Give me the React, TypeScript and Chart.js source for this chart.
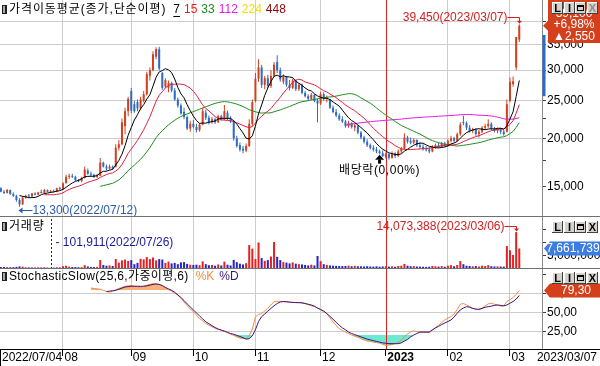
import React, { useEffect, useRef } from 'react';
import { Chart, registerables } from 'chart.js';

Chart.register(...registerables);

const FONT = "'Liberation Sans', 'Noto Sans CJK KR', sans-serif";
Chart.defaults.font.family = FONT;
Chart.defaults.font.size = 12;
Chart.defaults.color = '#000';

// ---------------- data (daily, 2022/07/04 .. 2023/03/07) ----------------
const opens = [
  14850, 14550, 14450, 14700, 14350, 14200, 13850, 13500, 14050, 14200,
  14150, 14400, 14300, 14500, 14450, 14700, 14550, 14600, 14550, 14850,
  14800, 15300, 15900, 16000, 15900, 15600, 15500, 15800, 16500, 16200,
  16100, 15900, 16000, 17300, 16900, 16700, 16900, 16900, 18900, 19300,
  21500, 23500, 26500, 24500, 24800, 23900, 25000, 26000, 29000, 30000,
  32500, 34000, 29500, 27200, 27000, 27800, 26600, 25200, 24300, 23400,
  22700, 21200, 21800, 21400, 21000, 21700, 23300, 22600, 22000, 22400,
  22000, 22800, 22400, 23300, 22500, 22100, 20000, 19200, 18800, 18600,
  19100, 21800, 25000, 28500, 30500, 27500, 28600, 27300, 29000, 31500,
  30000, 28000, 28800, 27500, 27000, 28200, 26800, 27500, 26200, 25700,
  25300, 25900, 25000, 24600, 26000, 25300, 25200, 24000, 23400, 22900,
  22400, 22100, 21500, 21900, 21300, 21500, 20700, 20100, 19600, 19200,
  18900, 18700, 18500, 18300, 17900, 18200, 17800, 18300, 18000, 18500,
  18800, 20100, 19700, 19500, 19800, 19200, 19000, 18800, 18700, 18500,
  19000, 19200, 19000, 19400, 19100, 19700, 20000, 19700, 20500, 22000,
  21900, 21300, 20900, 21100, 20500, 20800, 21300, 21500, 21800, 21200,
  20900, 21100, 20800, 20800, 25000, 27600, 30500, 36000,
];
const highs = [
  14950, 14700, 14800, 14750, 14500, 14300, 14000, 14150, 14300, 14350,
  14450, 14500, 14550, 14750, 14800, 14750, 14700, 14750, 14900, 15000,
  15400, 16100, 16200, 16200, 16000, 15700, 15900, 16900, 16700, 16400,
  16200, 16200, 17800, 17400, 17100, 17100, 17000, 19300, 19800, 22500,
  24000, 25600, 27000, 25000, 25200, 25600, 26500, 29700, 30500, 33600,
  34400, 34500, 29700, 28600, 28200, 28000, 27000, 25500, 24600, 24000,
  22900, 22200, 22300, 21800, 21900, 24000, 23700, 22900, 22700, 22600,
  23000, 23000, 24400, 23600, 22800, 22300, 20300, 19500, 19100, 19400,
  22400, 25200, 29500, 32000, 31000, 29000, 29200, 30000, 31500, 32800,
  30500, 29300, 29000, 28300, 28500, 28400, 27800, 27700, 26500, 26000,
  26200, 26000, 25300, 26400, 26300, 25800, 25300, 24300, 23800, 23200,
  22800, 22300, 22200, 22000, 21800, 21600, 20900, 20300, 19900, 19400,
  19200, 19000, 18700, 18600, 18400, 18300, 18500, 18400, 18700, 19000,
  20600, 20300, 20100, 20000, 19900, 19500, 19300, 19100, 19000, 19200,
  19400, 19500, 19600, 19600, 19900, 20300, 20200, 20700, 22000, 22900,
  22100, 21600, 21300, 21200, 21000, 21500, 21800, 22400, 22000, 21400,
  21300, 21300, 21000, 25200, 28700, 28900, 36550, 39450,
];
const lows = [
  14500, 14350, 14400, 14300, 14100, 13700, 13300, 13450, 13950, 14050,
  14100, 14250, 14250, 14400, 14400, 14500, 14450, 14500, 14500, 14700,
  14700, 15300, 15700, 15800, 15500, 15400, 15400, 15750, 16100, 15900,
  15800, 15800, 16000, 16800, 16500, 16600, 16600, 16800, 18600, 19200,
  20500, 22800, 23200, 23300, 23500, 23700, 24800, 25800, 28200, 29800,
  32000, 30000, 26700, 27000, 26300, 26300, 25000, 24000, 23000, 22400,
  21000, 20800, 21200, 20700, 20800, 21600, 22300, 21700, 21800, 21800,
  21900, 22200, 22300, 22300, 21900, 19700, 18900, 18500, 18300, 18400,
  19000, 21500, 24800, 28000, 27000, 26800, 27000, 27000, 28800, 29500,
  28000, 27600, 27200, 26600, 26800, 26500, 26500, 26000, 25500, 25000,
  25100, 24800, 22000, 24400, 25000, 24800, 23800, 23200, 22700, 22200,
  21900, 21300, 21300, 21200, 20900, 20500, 19900, 19400, 19000, 18700,
  18500, 18300, 18200, 17900, 17700, 17600, 17700, 17800, 17900, 18300,
  18700, 19400, 19300, 19300, 19000, 18800, 18600, 18500, 18300, 18400,
  18800, 18900, 18900, 19000, 19000, 19500, 19500, 19600, 20300, 21600,
  21000, 20700, 20600, 20300, 20100, 20600, 21000, 21300, 21000, 20700,
  20600, 20500, 20300, 20700, 24800, 27200, 30000, 35500,
];
const closes = [
  14550, 14450, 14700, 14350, 14200, 13850, 13500, 14050, 14200, 14150,
  14400, 14300, 14500, 14450, 14700, 14550, 14600, 14550, 14850, 14800,
  15300, 15900, 16000, 15900, 15600, 15500, 15800, 16600, 16200, 16100,
  15900, 16000, 17300, 16900, 16700, 16900, 16700, 18900, 19300, 22000,
  23500, 25300, 23600, 23500, 23900, 25200, 26000, 29300, 30000, 33000,
  34000, 30300, 27000, 28300, 27800, 26600, 25200, 24300, 23200, 22700,
  21200, 21800, 21400, 21000, 21700, 23500, 22600, 22000, 22400, 22000,
  22800, 22400, 23500, 22500, 22100, 20000, 19100, 18700, 18600, 19100,
  21800, 24800, 28500, 30500, 27500, 28600, 27300, 29000, 31000, 30000,
  28400, 28800, 27500, 27000, 28200, 26800, 27500, 26200, 25700, 25300,
  25900, 25000, 24600, 26000, 25300, 25500, 24000, 23400, 22900, 22400,
  22100, 21500, 21900, 21400, 21600, 20700, 20100, 19600, 19200, 18900,
  18700, 18500, 18300, 18000, 18200, 17800, 18300, 18000, 18500, 18800,
  20100, 19600, 19500, 19800, 19200, 19000, 18800, 18700, 18500, 19000,
  19200, 19000, 19400, 19100, 19700, 20000, 19700, 20500, 21700, 21900,
  21300, 20900, 21100, 20500, 20800, 21300, 21500, 21800, 21200, 20900,
  21100, 20800, 20500, 24500, 28000, 28100, 36550, 39100,
];
const volumes = [
  420000, 380000, 350000, 300000, 330000, 450000, 620000, 540000, 300000, 250000,
  280000, 200000, 260000, 220000, 310000, 180000, 101911, 160000, 290000, 230000,
  700000, 900000, 520000, 400000, 380000, 300000, 350000, 1100000, 600000, 420000,
  380000, 450000, 3100000, 1200000, 900000, 1000000, 800000, 3500000, 2100000, 3000000,
  3300000, 2800000, 3100000, 1500000, 2000000, 3600000, 3400000, 4300000, 3500000, 4100000,
  3000000, 3500000, 3300000, 2000000, 2500000, 1800000, 2000000, 1500000, 2200000, 2300000,
  1600000, 1300000, 1200000, 1300000, 1100000, 2600000, 1500000, 1100000, 1200000, 900000,
  1400000, 1000000, 2500000, 1300000, 1000000, 3200000, 2300000, 1700000, 1400000, 1900000,
  9000000, 7600000, 3500000, 10000000, 3900000, 2800000, 3100000, 4500000, 10200000, 4400000,
  3100000, 2300000, 2100000, 1800000, 2200000, 1700000, 1500000, 1400000, 1200000, 1000000,
  1300000, 1000000, 4700000, 2700000, 1500000, 1200000, 1000000, 900000, 850000, 800000,
  750000, 800000, 900000, 700000, 850000, 700000, 650000, 600000, 700000, 600000,
  550000, 650000, 500000, 600000, 700000, 550000, 650000, 500000, 800000, 900000,
  1600000, 900000, 700000, 750000, 600000, 550000, 500000, 450000, 500000, 800000,
  700000, 550000, 750000, 500000, 900000, 1100000, 700000, 1200000, 2700000, 1500000,
  900000, 800000, 700000, 750000, 600000, 900000, 800000, 1100000, 700000, 600000,
  650000, 600000, 550000, 8600000, 7000000, 5100000, 14073388, 7661739,
];
const stochK = [
  ...Array(29).fill(null),
  82.7, 82, 81.5, 81, 79.5, 78, 77, 78.5, 80.5, 82,
  83.5, 85, 85.5, 86, 85, 84.5, 84, 85, 86.5, 87.5,
  88.5, 88, 87.2, 85.5, 83, 80.5, 78.5, 76, 73, 69,
  64, 59, 55, 51, 46.5, 42, 39, 35.5, 33, 31,
  29, 27.5, 26.5, 25.5, 23.5, 21, 19.5, 17.5, 16, 15.5,
  15, 19, 28, 44, 47.5, 48.5, 52, 56, 60, 64.5,
  65, 65, 64.6, 64, 63.5, 63.5, 63.2, 63.2, 63, 62,
  60.5, 59, 58, 56, 54, 51, 48.5, 43, 37.5, 32.5,
  28.5, 26, 24, 22, 20, 18.5, 17, 15, 13.5, 12,
  11.5, 10.5, 10, 9.2, 7.5, 6.2, 6.5, 7.4, 8.5, 10,
  13, 18, 21.5, 24, 25.5, 24.5, 24, 23.5, 23.3, 23.2,
  26, 30, 33, 36.5, 40, 42.5, 44.5, 48, 54, 61,
  62, 60, 58, 55.6, 54.5, 53.5, 55.5, 59, 61.5, 62.4,
  61, 60, 58.5, 59, 64.6, 67, 70, 74, 79.3,
];
const stochD = [
  ...Array(34).fill(null),
  78, 78.5, 79, 79.5, 81, 82.5, 84, 84.5, 85, 85,
  85, 84.9, 85, 85.5, 86.5, 87.5, 88.1, 87.5, 86, 83.5,
  81.5, 79.5, 77, 73.5, 70, 66, 61.5, 57.5, 53.4, 49.5,
  45.5, 41.5, 37.6, 35, 32.5, 30, 28, 26.5, 25, 23.5,
  22, 21, 19.5, 18, 16.5, 14.5, 15, 19, 27, 38,
  44.5, 48, 52, 55.5, 59, 62, 64, 64.6, 64.5, 64,
  63.5, 63.2, 63.2, 62.8, 62, 61, 60, 58.5, 56, 54,
  52, 48.5, 45, 41, 37, 33, 29.5, 27, 24, 22,
  20.5, 19, 17.5, 16, 14.5, 13.5, 12.5, 11.5, 10.5, 9.5,
  9, 8.5, 8.4, 8.4, 8.4, 9.5, 12, 14, 17.5, 20,
  22, 24, 24, 24, 24, 27, 29.5, 31.5, 34, 36,
  38, 40, 44, 49, 53.4, 56, 57.8, 57, 55.5, 54.5,
  54.3, 55.5, 57, 57.8, 58.5, 59.5, 60, 59.5, 58.8, 60,
  62.5, 64.6, 68, 72.7,
];

const monthTicks = [20, 42, 62, 82, 103, 124, 144, 164];
const monthLabels = ['08', '09', '10', '11', '12', '2023', '02', '03'];
const yearTick = 124;
const firstDate = '2022/07/04';
const lastDate = '2023/03/07';
const lowDate = '2022/07/12';
const highDate = '2023/03/07';
const minVolDate = '2022/07/26';
const maxVolDate = '2023/03/06';
const exDivIndex = 122;
const exDivLabel = '배당락(0,00%)';
const maPeriods = [7, 15, 33, 112, 224, 448];
const maLineColors = ['#000000', '#e0203c', '#1e8c1e', '#e01ee0', '#f0e000', '#8a0a0a'];
const maTitleColors = ['#000000', '#e41e1e', '#1e8c1e', '#e01ee0', '#f0e000', '#8a0a0a'];
const priceTicks = [15000, 17500, 20000, 22500, 25000, 30000, 35000, 40000];
const priceLabelTicks = [15000, 20000, 25000, 30000, 35000, 40000];
const priceGridTicks = [20000, 25000, 30000, 35000, 40000];
const volumeTicks = [5000000, 10000000, 15000000];
const volumeLabelTicks = [5000000];
const stochTicks = [25, 50, 75, 100];
const stochGridTicks = [25, 50, 75];
const stochHigh = 80;
const stochLow = 20;
const rangeBar = [25700, 37000];
const priceTitle = '가격이동평균(종가,단순이평)';
const volumeTitle = '거래량';
const stochTitle = 'StochasticSlow(25,6,가중이평,6)';

// ---------------- layout ----------------
const AXIS_W = 58;
const X_MIN = -0.29;
const X_MAX = 174.32;
const MAIN_H = 216;
const PX_PER_LN = 168;
const REF_PRICE = 20000;
const REF_Y = 138.3;
const PRICE_MAX = REF_PRICE * Math.exp(REF_Y / PX_PER_LN);
const PRICE_MIN = REF_PRICE * Math.exp((REF_Y - MAIN_H) / PX_PER_LN);
const VOL_H = 51;
const VOL_MAX = 20000000;
const ST_H = 97;
const ST_AXIS_H = 17;
const ST_MIN = 80 - 59 / 0.75;
const ST_MAX = 108;

const UP_CANDLE = '#d2401e';
const DOWN_CANDLE = '#2f6cc0';
const UP_VOL = '#e42020';
const DOWN_VOL = '#2424c8';
const GRID = '#cdcdcd';
const YEAR_GRID = '#e02424';
const RED_TXT = '#d42020';

const fmt = (v: number) => Math.round(v).toLocaleString('en-US');
const fmtDec = (v: number) => v.toFixed(2).replace('.', ',');

function sma(values: number[], period: number) {
  return values.map((_, i) => {
    if (i < period - 1) return null;
    let s = 0;
    for (let k = i - period + 1; k <= i; k++) s += values[k];
    return s / period;
  });
}

function xAxis(height: number, tickLen: number) {
  return {
    type: 'linear',
    min: X_MIN,
    max: X_MAX,
    bounds: 'data',
    offset: false,
    afterBuildTicks: (s: any) => {
      s.ticks = monthTicks.map((v) => ({ value: v }));
    },
    afterFit: (s: any) => {
      s.height = height;
      s.paddingLeft = 0;
      s.paddingRight = 0;
    },
    grid: {
      offset: false,
      color: (c: any) => (c.tick && c.tick.value === yearTick ? 'rgba(0,0,0,0)' : GRID),
      lineWidth: 1,
      drawTicks: tickLen > 0,
      tickLength: tickLen,
      tickColor: '#000',
    },
    border: { display: false },
    ticks: { display: false },
  };
}

// red year-boundary line, drawn through the library's x scale
const yearLine = {
  id: 'yearLine',
  beforeDatasetsDraw(chart: any) {
    const ctx: CanvasRenderingContext2D = chart.ctx;
    const x = Math.round(chart.scales.x.getPixelForValue(yearTick)) + 0.5;
    const a = chart.chartArea;
    ctx.save();
    ctx.strokeStyle = YEAR_GRID;
    ctx.lineWidth = 1;
    ctx.beginPath();
    ctx.moveTo(x, a.top);
    ctx.lineTo(x, a.bottom);
    ctx.stroke();
    ctx.restore();
  },
};

function yAfterFit(s: any) {
  s.width = AXIS_W;
  s.paddingTop = 0;
  s.paddingBottom = 0;
}

function drawIcon(ctx: CanvasRenderingContext2D, x: number, y: number) {
  ctx.fillStyle = '#202020';
  ctx.fillRect(x, y, 5, 9);
  ctx.fillStyle = '#a8a8a8';
  ctx.fillRect(x + 1, y + 1, 2, 7);
}

function setSpacing(ctx: any, v: string) {
  if ('letterSpacing' in ctx) ctx.letterSpacing = v;
}

function drawButtons(ctx: CanvasRenderingContext2D, x0: number, y0: number, closeGrey: boolean) {
  const labels = ['L', 'I', '', 'X'];
  for (let i = 0; i < 4; i++) {
    const x = Math.round(x0 + i * 11.5);
    ctx.fillStyle = '#d6d3ce';
    ctx.fillRect(x, y0, 11, 12);
    ctx.fillStyle = '#ffffff';
    ctx.fillRect(x, y0, 11, 1);
    ctx.fillRect(x, y0, 1, 12);
    ctx.fillStyle = '#404040';
    ctx.fillRect(x, y0 + 11, 11, 1);
    ctx.fillRect(x + 10, y0, 1, 12);
    ctx.fillStyle = i === 3 && closeGrey ? '#8c8c8c' : '#000';
    if (i === 2) {
      ctx.strokeStyle = '#000';
      ctx.lineWidth = 1;
      ctx.strokeRect(x + 2.5, y0 + 3.5, 6, 5);
      ctx.fillRect(x + 2, y0 + 3, 7, 2);
    } else {
      ctx.font = `bold 11px ${FONT}`;
      ctx.textAlign = 'center';
      ctx.textBaseline = 'middle';
      ctx.fillText(labels[i], x + 5.5, y0 + 6.5);
    }
  }
}

function drawTag(ctx: CanvasRenderingContext2D, yMid: number, h: number, color: string) {
  ctx.fillStyle = color;
  ctx.beginPath();
  ctx.moveTo(544, yMid);
  ctx.lineTo(550, yMid - h / 2);
  ctx.lineTo(600, yMid - h / 2);
  ctx.lineTo(600, yMid + h / 2);
  ctx.lineTo(550, yMid + h / 2);
  ctx.closePath();
  ctx.fill();
}

// ---------------- overlays ----------------
const mainOverlay = {
  id: 'mainOverlay',
  afterDraw(chart: any) {
    const ctx: CanvasRenderingContext2D = chart.ctx;
    const xs = chart.scales.x;
    const ys = chart.scales.y;
    const n = closes.length;
    ctx.save();
    ctx.lineWidth = 1;
    // title
    drawIcon(ctx, 2, 5);
    ctx.font = `12px ${FONT}`;
    ctx.textBaseline = 'middle';
    ctx.textAlign = 'left';
    ctx.fillStyle = '#000';
    let tx = 9;
    const ty = 10;
    setSpacing(ctx, '0.9px');
    ctx.fillText(priceTitle, tx, ty);
    tx += ctx.measureText(priceTitle).width + 7;
    setSpacing(ctx, '0px');
    maPeriods.forEach((p, k) => {
      const s = String(p);
      ctx.fillStyle = maTitleColors[k];
      ctx.fillText(s, tx, ty);
      const w = ctx.measureText(s).width;
      if (k === 0) ctx.fillRect(tx, ty + 6, w, 1);
      tx += w + 4;
    });

    // highest high
    let hi = 0;
    highs.forEach((h, i) => { if (h > highs[hi]) hi = i; });
    const hx = Math.round(xs.getPixelForValue(hi)) + 0.5;
    const hy = ys.getPixelForValue(highs[hi]);
    const hly = Math.round(hy - 7) + 0.5;
    ctx.strokeStyle = RED_TXT;
    ctx.fillStyle = RED_TXT;
    ctx.beginPath();
    ctx.moveTo(hx - 12, hly);
    ctx.lineTo(hx, hly);
    ctx.lineTo(hx, hy - 3);
    ctx.stroke();
    ctx.beginPath();
    ctx.moveTo(hx - 2.5, hy - 3.5);
    ctx.lineTo(hx + 2.5, hy - 3.5);
    ctx.lineTo(hx, hy - 0.5);
    ctx.closePath();
    ctx.fill();
    ctx.font = `12px ${FONT}`;
    ctx.textAlign = 'right';
    ctx.fillText(`${fmt(highs[hi])}(${highDate})`, hx - 12, hly);

    // lowest low
    let lo = 0;
    lows.forEach((l, i) => { if (l < lows[lo]) lo = i; });
    const lx = xs.getPixelForValue(lo);
    const lyv = ys.getPixelForValue(lows[lo]);
    const ay = Math.round(lyv + 3) + 0.5;
    ctx.strokeStyle = '#2a5caa';
    ctx.fillStyle = '#2a5caa';
    ctx.beginPath();
    ctx.moveTo(lx + 2, ay);
    ctx.lineTo(lx + 13, ay);
    ctx.stroke();
    ctx.beginPath();
    ctx.moveTo(lx - 1, ay);
    ctx.lineTo(lx + 3, ay - 3);
    ctx.lineTo(lx + 3, ay + 3);
    ctx.closePath();
    ctx.fill();
    ctx.textAlign = 'left';
    ctx.fillText(`${fmt(lows[lo])}(${lowDate})`, lx + 13, ay);

    // ex-dividend marker
    const ex = xs.getPixelForValue(exDivIndex);
    const top = ys.getPixelForValue(lows[exDivIndex]) + 0.5;
    ctx.fillStyle = '#000';
    ctx.beginPath();
    ctx.moveTo(ex, top);
    ctx.lineTo(ex - 4.5, top + 5);
    ctx.lineTo(ex + 4.5, top + 5);
    ctx.closePath();
    ctx.fill();
    ctx.fillRect(ex - 1.5, top + 5, 3, 4);
    ctx.textAlign = 'center';
    setSpacing(ctx, '0.6px');
    ctx.fillText(exDivLabel, ex, top + 16);
    setSpacing(ctx, '0px');

    // range bar on axis
    const rTop = ys.getPixelForValue(rangeBar[1]);
    const rBot = ys.getPixelForValue(rangeBar[0]);
    ctx.fillStyle = '#2a6cc8';
    ctx.fillRect(chart.chartArea.right + 0.5, rTop, 3, rBot - rTop);

    // current price tag
    const cur = closes[n - 1];
    const prev = closes[n - 2];
    const diff = cur - prev;
    const pct = (diff / prev) * 100;
    const cy = ys.getPixelForValue(cur);
    ctx.fillStyle = '#d4401c';
    ctx.beginPath();
    ctx.moveTo(548, -1);
    ctx.lineTo(600, -1);
    ctx.lineTo(600, 43);
    ctx.lineTo(548, 43);
    ctx.lineTo(548, cy + 5);
    ctx.lineTo(543, cy);
    ctx.lineTo(548, cy - 5);
    ctx.closePath();
    ctx.fill();
    ctx.fillStyle = '#fff';
    ctx.textAlign = 'center';
    ctx.fillText(fmt(cur), 574, 14);
    ctx.fillText(`+${fmtDec(pct)}%`, 574, 25);
    ctx.fillText(`▲${fmt(diff)}`, 574, 37);
    drawButtons(ctx, 552, 2, true);
    ctx.restore();
  },
};

const volOverlay = {
  id: 'volOverlay',
  afterDraw(chart: any) {
    const ctx: CanvasRenderingContext2D = chart.ctx;
    const xs = chart.scales.x;
    const ys = chart.scales.y;
    const n = volumes.length;
    ctx.save();
    ctx.lineWidth = 1;
    drawIcon(ctx, 2, 5);
    ctx.font = `12px ${FONT}`;
    ctx.textBaseline = 'middle';
    ctx.textAlign = 'left';
    ctx.fillStyle = '#000';
    setSpacing(ctx, '0.8px');
    ctx.fillText(volumeTitle, 9, 10);
    setSpacing(ctx, '0px');

    let mi = 0;
    let ma = 0;
    volumes.forEach((v, i) => {
      if (v < volumes[mi]) mi = i;
      if (v > volumes[ma]) ma = i;
    });
    const mx = Math.round(xs.getPixelForValue(mi)) + 0.5;
    ctx.strokeStyle = '#1a1a9a';
    ctx.setLineDash([2, 2]);
    ctx.beginPath();
    ctx.moveTo(mx, 2);
    ctx.lineTo(mx, chart.chartArea.bottom);
    ctx.stroke();
    ctx.setLineDash([]);
    ctx.fillStyle = '#1a1a9a';
    ctx.fillText(`- ${fmt(volumes[mi])}(${minVolDate})`, mx + 4, 26);

    const px = Math.round(xs.getPixelForValue(ma)) + 0.5;
    const py = ys.getPixelForValue(volumes[ma]);
    const ly = Math.round(py - 6) + 0.5;
    ctx.strokeStyle = RED_TXT;
    ctx.fillStyle = RED_TXT;
    ctx.beginPath();
    ctx.moveTo(px - 12, ly);
    ctx.lineTo(px, ly);
    ctx.lineTo(px, py - 3);
    ctx.stroke();
    ctx.beginPath();
    ctx.moveTo(px - 2.5, py - 3.5);
    ctx.lineTo(px + 2.5, py - 3.5);
    ctx.lineTo(px, py - 0.5);
    ctx.closePath();
    ctx.fill();
    ctx.textAlign = 'right';
    ctx.fillText(`${fmt(volumes[ma])}(${maxVolDate})`, px - 12, ly);

    const vy = ys.getPixelForValue(volumes[n - 1]);
    drawTag(ctx, vy, 14, '#3b7de0');
    ctx.fillStyle = '#fff';
    ctx.textAlign = 'center';
    ctx.fillText(fmt(volumes[n - 1]), 573, vy + 0.5);
    drawButtons(ctx, 552, 4, false);
    ctx.restore();
  },
};

const stochOverlay = {
  id: 'stochOverlay',
  afterDraw(chart: any) {
    const ctx: CanvasRenderingContext2D = chart.ctx;
    const xs = chart.scales.x;
    const ys = chart.scales.y;
    const n = stochK.length;
    const area = chart.chartArea;
    ctx.save();
    ctx.lineWidth = 1;
    drawIcon(ctx, 2, 3);
    ctx.font = `12px ${FONT}`;
    ctx.textBaseline = 'middle';
    ctx.textAlign = 'left';
    ctx.fillStyle = '#000';
    let tx = 9;
    setSpacing(ctx, '0.35px');
    ctx.fillText(stochTitle, tx, 8);
    tx += ctx.measureText(stochTitle).width + 7;
    setSpacing(ctx, '0px');
    ctx.fillStyle = '#f08c46';
    ctx.fillText('%K', tx, 8);
    tx += ctx.measureText('%K').width + 5;
    ctx.fillStyle = '#3c1478';
    ctx.fillText('%D', tx, 8);

    const kLast = stochK[n - 1] as number;
    const ky = ys.getPixelForValue(kLast);
    drawTag(ctx, ky, 14, '#d4401c');
    ctx.fillStyle = '#fff';
    ctx.textAlign = 'center';
    ctx.fillText(fmtDec(kLast), 576, ky + 0.5);
    drawButtons(ctx, 552, 3, false);

    // bottom date strip
    const by = Math.round(area.bottom) + 0.5;
    ctx.strokeStyle = '#000';
    ctx.beginPath();
    ctx.moveTo(0, by);
    ctx.lineTo(600, by);
    ctx.moveTo(0.5, by);
    ctx.lineTo(0.5, chart.height);
    ctx.stroke();
    const ly = area.bottom + 9;
    ctx.fillStyle = '#000';
    ctx.textAlign = 'left';
    ctx.font = `12px ${FONT}`;
    ctx.fillText(firstDate, 2, ly);
    monthTicks.forEach((t, i) => {
      const x = xs.getPixelForValue(t) + 1.5;
      ctx.font = t === yearTick ? `bold 12px ${FONT}` : `12px ${FONT}`;
      ctx.fillText(monthLabels[i], x, ly);
    });
    ctx.font = `12px ${FONT}`;
    ctx.textAlign = 'right';
    ctx.fillText(lastDate, 597, ly);
    ctx.restore();
  },
};

// ---------------- charts ----------------
const baseOptions = {
  animation: false,
  responsive: false,
  events: [],
  layout: { padding: 0, autoPadding: false },
  plugins: { legend: { display: false }, tooltip: { enabled: false } },
};

function buildMain(canvas: HTMLCanvasElement) {
  const colors = closes.map((c, i) => (c >= opens[i] ? UP_CANDLE : DOWN_CANDLE));
  const maSets = maPeriods.map((p, k) => ({
    type: 'line',
    data: sma(closes, p).map((v, i) => ({ x: i, y: v })),
    borderColor: maLineColors[k],
    borderWidth: 1,
    pointRadius: 0,
    fill: false,
    tension: 0,
    spanGaps: false,
    order: 0,
  }));
  return new Chart(canvas, {
    type: 'bar',
    data: {
      datasets: [
        ...maSets,
        {
          type: 'bar',
          data: closes.map((c, i) => ({ x: i, y: [opens[i], c] })),
          backgroundColor: colors,
          barThickness: 2,
          minBarLength: 1,
          grouped: false,
          borderWidth: 0,
          inflateAmount: 0,
          order: 1,
        },
        {
          type: 'bar',
          data: closes.map((_, i) => ({ x: i, y: [lows[i], highs[i]] })),
          backgroundColor: colors,
          barThickness: 1,
          grouped: false,
          borderWidth: 0,
          inflateAmount: 0,
          order: 2,
        },
      ],
    },
    options: {
      ...baseOptions,
      scales: {
        x: xAxis(0, 0),
        y: {
          type: 'logarithmic',
          position: 'right',
          min: PRICE_MIN,
          max: PRICE_MAX,
          bounds: 'data',
          beginAtZero: false,
          afterBuildTicks: (s: any) => {
            s.ticks = priceTicks.map((v) => ({ value: v }));
          },
          afterFit: yAfterFit,
          grid: {
            color: (c: any) => (c.tick && priceGridTicks.includes(c.tick.value) ? GRID : 'rgba(0,0,0,0)'),
            tickColor: '#404040',
            tickLength: 4,
          },
          border: { display: true, color: '#8a8a8a' },
          ticks: {
            autoSkip: false,
            padding: 1,
            color: '#000',
            font: { size: 12, family: FONT },
            callback: (v: any) => (priceLabelTicks.includes(v) ? fmt(v) : ''),
          },
        },
      },
    },
    plugins: [yearLine, mainOverlay],
  } as any);
}

function buildVolume(canvas: HTMLCanvasElement) {
  const colors = closes.map((c, i) => (c >= opens[i] ? UP_VOL : DOWN_VOL));
  return new Chart(canvas, {
    type: 'bar',
    data: {
      datasets: [
        {
          data: volumes.map((v, i) => ({ x: i, y: v })),
          backgroundColor: colors,
          barThickness: 2,
          borderWidth: 0,
          inflateAmount: 0,
          grouped: false,
        },
      ],
    },
    options: {
      ...baseOptions,
      scales: {
        x: xAxis(0, 0),
        y: {
          type: 'linear',
          position: 'right',
          min: 0,
          max: VOL_MAX,
          bounds: 'data',
          afterBuildTicks: (s: any) => {
            s.ticks = volumeTicks.map((v) => ({ value: v }));
          },
          afterFit: yAfterFit,
          grid: { color: 'rgba(0,0,0,0)', tickColor: '#404040', tickLength: 4 },
          border: { display: true, color: '#8a8a8a' },
          ticks: {
            autoSkip: false,
            padding: 1,
            color: '#000',
            font: { size: 12, family: FONT },
            callback: (v: any) => (volumeLabelTicks.includes(v) ? fmt(v) : ''),
          },
        },
      },
    },
    plugins: [yearLine, volOverlay],
  } as any);
}

function buildStoch(canvas: HTMLCanvasElement) {
  const kData = stochK.map((v, i) => ({ x: i, y: v }));
  const dData = stochD.map((v, i) => ({ x: i, y: v }));
  const lineBase = { type: 'line', pointRadius: 0, tension: 0, spanGaps: false, borderWidth: 1 };
  return new Chart(canvas, {
    type: 'line',
    data: {
      datasets: [
        {
          ...lineBase,
          data: dData,
          borderColor: '#3c1478',
          fill: { target: { value: stochLow }, above: 'rgba(0,0,0,0)', below: '#6ee8d0' },
          order: 0,
        },
        {
          ...lineBase,
          data: kData,
          borderColor: '#f08c46',
          fill: { target: { value: stochHigh }, above: '#f7b27a', below: 'rgba(0,0,0,0)' },
          order: 1,
        },
        {
          ...lineBase,
          data: kData,
          borderWidth: 0,
          borderColor: 'rgba(0,0,0,0)',
          fill: { target: { value: stochLow }, above: 'rgba(0,0,0,0)', below: '#6ee8d0' },
          order: 2,
        },
      ],
    },
    options: {
      ...baseOptions,
      plugins: { ...baseOptions.plugins, filler: { drawTime: 'beforeDatasetsDraw', propagate: false } },
      scales: {
        x: xAxis(ST_AXIS_H, 7),
        y: {
          type: 'linear',
          position: 'right',
          min: ST_MIN,
          max: ST_MAX,
          bounds: 'data',
          afterBuildTicks: (s: any) => {
            s.ticks = stochTicks.map((v) => ({ value: v }));
          },
          afterFit: yAfterFit,
          grid: {
            color: (c: any) => (c.tick && stochGridTicks.includes(c.tick.value) ? GRID : 'rgba(0,0,0,0)'),
            tickColor: '#404040',
            tickLength: 4,
          },
          border: { display: true, color: '#8a8a8a' },
          ticks: {
            autoSkip: false,
            padding: 1,
            color: '#000',
            font: { size: 12, family: FONT },
            callback: (v: any) => (v < 100 ? fmtDec(v) : ''),
          },
        },
      },
    },
    plugins: [yearLine, stochOverlay],
  } as any);
}

export default function App() {
  const mainRef = useRef<HTMLCanvasElement>(null);
  const volRef = useRef<HTMLCanvasElement>(null);
  const stRef = useRef<HTMLCanvasElement>(null);

  useEffect(() => {
    const charts = [
      buildMain(mainRef.current as HTMLCanvasElement),
      buildVolume(volRef.current as HTMLCanvasElement),
      buildStoch(stRef.current as HTMLCanvasElement),
    ];
    return () => charts.forEach((c) => c.destroy());
  }, []);

  const abs = (top: number, h: number) => ({ position: 'absolute' as const, left: 0, top, width: 600, height: h });
  return (
    <div style={{ position: 'fixed', left: 0, top: 0, width: 600, height: 366, background: '#fff', overflow: 'hidden' }}>
      <canvas ref={mainRef} width={600} height={MAIN_H} style={abs(0, MAIN_H)} />
      <div style={{ ...abs(216, 1), background: '#707070' }} />
      <canvas ref={volRef} width={600} height={VOL_H} style={abs(217, VOL_H)} />
      <div style={{ ...abs(268, 1), background: '#707070' }} />
      <canvas ref={stRef} width={600} height={ST_H} style={abs(269, ST_H)} />
    </div>
  );
}
